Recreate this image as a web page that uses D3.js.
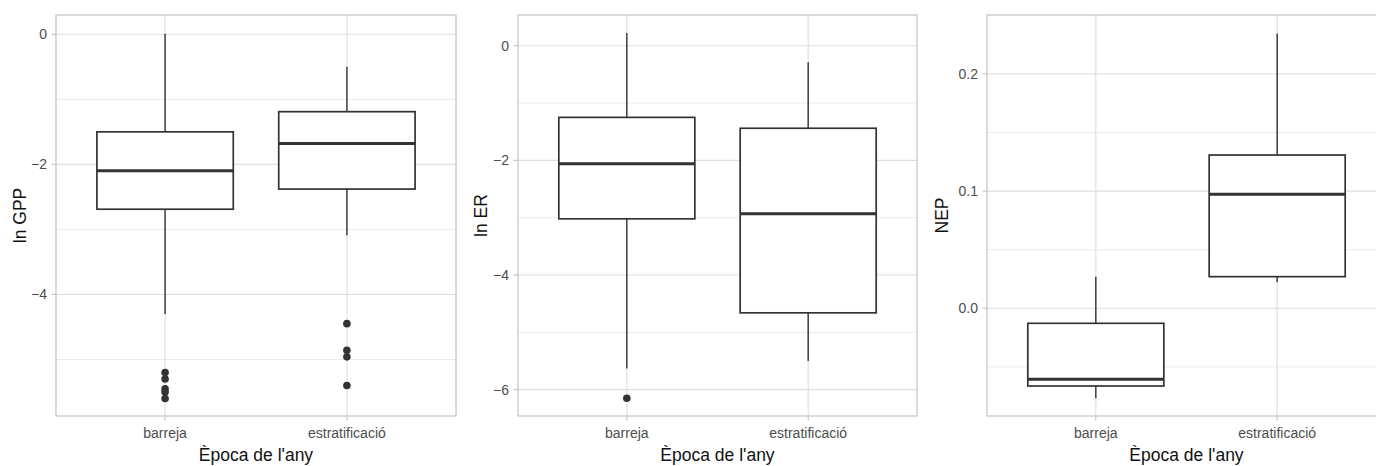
<!DOCTYPE html>
<meta charset="utf-8">
<head>
<script src="https://d3js.org/d3.v7.min.js"></script>
<style>
  body { margin: 0; background: #fff; }
  text { font-family: "Liberation Sans", Arial, sans-serif; }
</style>
</head>
<body>
<svg id="chart" width="1376" height="466"></svg>
<script>

// categories shared by the three panels
var categories = ["barreja", "estratificació"];

// box stats per category: [lower whisker, Q1, median, Q3, upper whisker]
var gppStats = [[-4.30, -2.69, -2.10, -1.50, 0.01], [-3.09, -2.38, -1.68, -1.19, -0.50]];
var gppOutliers = [[-5.20, -5.30, -5.45, -5.50, -5.60], [-4.45, -4.86, -4.96, -5.40]];
var gppTicks = [0, -2, -4];

var erStats = [[-5.63, -3.02, -2.06, -1.25, 0.22], [-5.50, -4.66, -2.93, -1.44, -0.29]];
var erOutliers = [[-6.15], []];
var erTicks = [0, -2, -4, -6];

var nepStats = [[-0.0768, -0.0663, -0.0606, -0.0128, 0.027], [0.0222, 0.027, 0.0973, 0.1308, 0.2346]];
var nepOutliers = [[], []];
var nepTicks = [0.2, 0.1, 0.0];

var svg = d3.select("#chart");

// panel layout (third panel runs past the right edge of the picture)
var panels = [
  { x0: 56,  x1: 456,  title: "ln GPP", titleX: 26,  stats: gppStats, outliers: gppOutliers, ticks: gppTicks, minor: [-1, -3, -5], domain: [-5.87, 0.297], fmt: d3.format("d") },
  { x0: 518, x1: 917,  title: "ln ER",  titleX: 487, stats: erStats,  outliers: erOutliers,  ticks: erTicks,  minor: [-1, -3, -5], domain: [-6.46, 0.536], fmt: d3.format("d") },
  { x0: 987, x1: 1386, title: "NEP",    titleX: 948, stats: nepStats, outliers: nepOutliers, ticks: nepTicks, minor: [-0.05, 0.05, 0.15], domain: [-0.0919, 0.2503], fmt: d3.format(".1f") }
];
var yTop = 15, yBottom = 416;

panels.forEach(function(p) {
  var g = svg.append("g");

  // discrete x: centers at 0.6/2.2 and 1.6/2.2 of width
  var xc = d3.scalePoint().domain(categories).range([p.x0, p.x1]).padding(0.6);
  var boxW = (p.x1 - p.x0) * 0.75 / 2.2;

  var y = d3.scaleLinear().domain(p.domain).range([yBottom, yTop]);

  // minor grid
  g.selectAll(".minor").data(p.minor).enter().append("line")
    .attr("x1", p.x0).attr("x2", p.x1)
    .attr("y1", function(d) { return y(d); }).attr("y2", function(d) { return y(d); })
    .attr("stroke", "#ebebeb").attr("stroke-width", 1);

  // major grid
  g.selectAll(".major").data(p.ticks).enter().append("line")
    .attr("x1", p.x0).attr("x2", p.x1)
    .attr("y1", function(d) { return y(d); }).attr("y2", function(d) { return y(d); })
    .attr("stroke", "#dedede").attr("stroke-width", 1.1);

  g.selectAll(".vgrid").data(categories).enter().append("line")
    .attr("x1", function(d) { return xc(d); }).attr("x2", function(d) { return xc(d); })
    .attr("y1", yTop).attr("y2", yBottom)
    .attr("stroke", "#dedede").attr("stroke-width", 1.1);

  // boxes
  categories.forEach(function(c, i) {
    var s = p.stats[i], cx = xc(c);
    g.append("line").attr("x1", cx).attr("x2", cx)
      .attr("y1", y(s[4])).attr("y2", y(s[3]))
      .attr("stroke", "#333").attr("stroke-width", 1.4);
    g.append("line").attr("x1", cx).attr("x2", cx)
      .attr("y1", y(s[1])).attr("y2", y(s[0]))
      .attr("stroke", "#333").attr("stroke-width", 1.4);
    g.append("rect")
      .attr("x", cx - boxW / 2).attr("width", boxW)
      .attr("y", y(s[3])).attr("height", y(s[1]) - y(s[3]))
      .attr("fill", "#fff").attr("stroke", "#333").attr("stroke-width", 1.7);
    g.append("line").attr("x1", cx - boxW / 2).attr("x2", cx + boxW / 2)
      .attr("y1", y(s[2])).attr("y2", y(s[2]))
      .attr("stroke", "#333").attr("stroke-width", 3);
    g.selectAll(null).data(p.outliers[i]).enter().append("circle")
      .attr("cx", cx).attr("cy", function(d) { return y(d); })
      .attr("r", 3.8).attr("fill", "#333");
  });

  // panel border
  g.append("rect")
    .attr("x", p.x0).attr("y", yTop)
    .attr("width", p.x1 - p.x0).attr("height", yBottom - yTop)
    .attr("fill", "none").attr("stroke", "#c4c4c4").attr("stroke-width", 1.2);

  // y axis ticks + labels
  g.selectAll(".ytick").data(p.ticks).enter().append("line")
    .attr("x1", p.x0 - 4.5).attr("x2", p.x0)
    .attr("y1", function(d) { return y(d); }).attr("y2", function(d) { return y(d); })
    .attr("stroke", "#c4c4c4").attr("stroke-width", 1.1);
  g.selectAll(".ylab").data(p.ticks).enter().append("text")
    .attr("x", p.x0 - 9).attr("y", function(d) { return y(d); })
    .attr("dy", "0.35em")
    .attr("text-anchor", "end")
    .attr("font-size", 14).attr("fill", "#4d4d4d")
    .text(function(d) { return p.fmt(d); });

  // x axis ticks + labels
  g.selectAll(".xtick").data(categories).enter().append("line")
    .attr("x1", function(d) { return xc(d); }).attr("x2", function(d) { return xc(d); })
    .attr("y1", yBottom).attr("y2", yBottom + 4.5)
    .attr("stroke", "#c4c4c4").attr("stroke-width", 1.1);
  g.selectAll(".xlab").data(categories).enter().append("text")
    .attr("x", function(d) { return xc(d); }).attr("y", 438)
    .attr("text-anchor", "middle")
    .attr("font-size", 14).attr("fill", "#4d4d4d")
    .text(function(d) { return d; });

  // axis titles
  g.append("text")
    .attr("x", (p.x0 + p.x1) / 2).attr("y", 461)
    .attr("text-anchor", "middle")
    .attr("font-size", 17.5).attr("fill", "#111")
    .text("Època de l'any");
  g.append("text")
    .attr("transform", "translate(" + p.titleX + "," + ((yTop + yBottom) / 2) + ") rotate(-90)")
    .attr("text-anchor", "middle")
    .attr("font-size", 17.5).attr("fill", "#111")
    .text(p.title);
});

</script>
</body>
